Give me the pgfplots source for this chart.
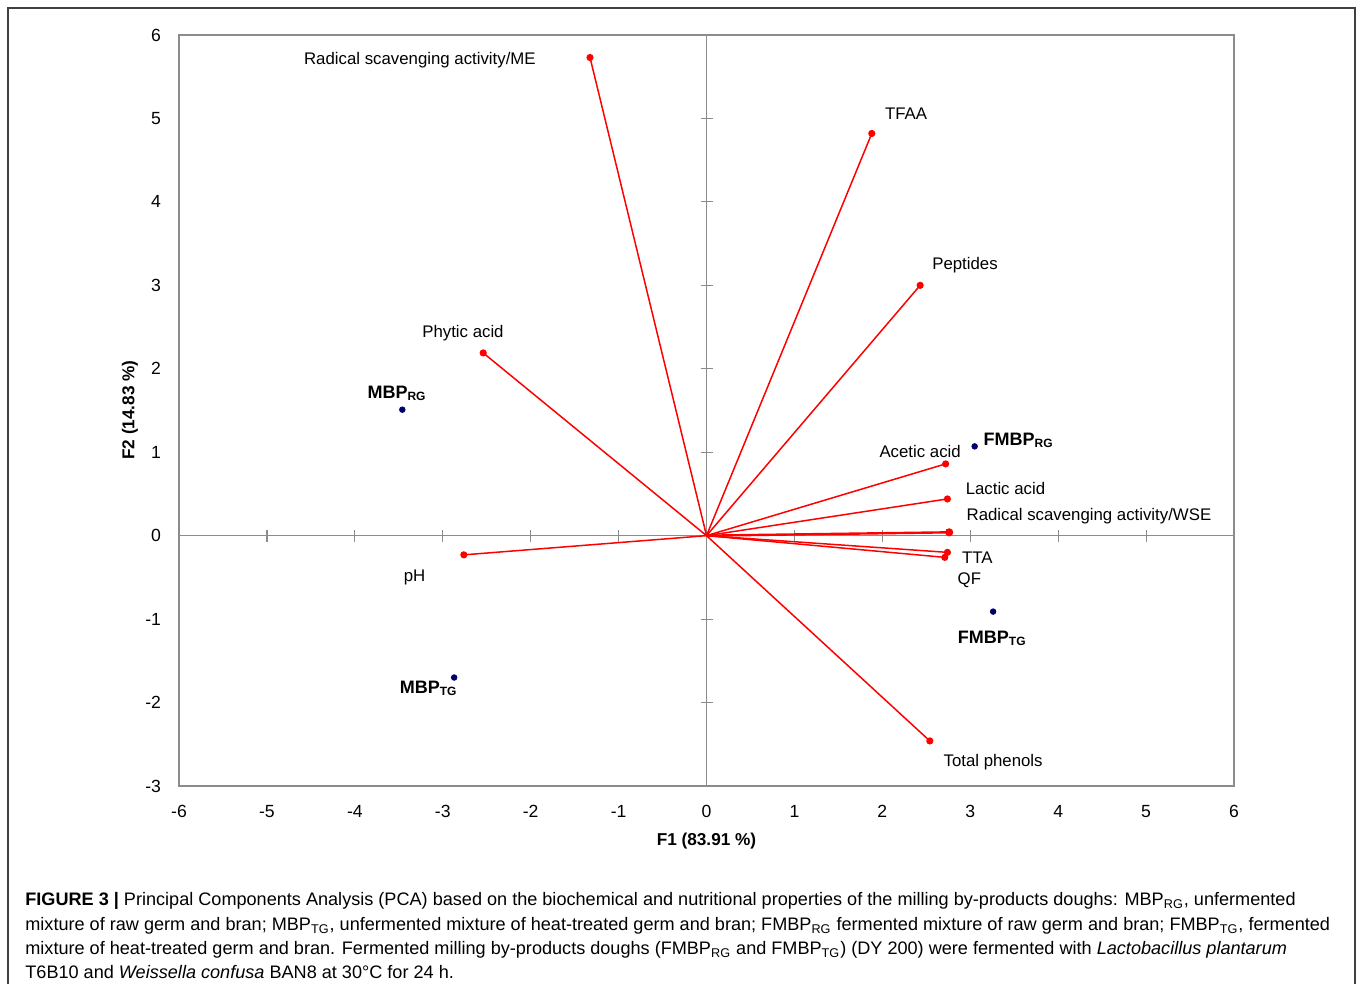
\documentclass[border=0pt]{standalone}
\usepackage{pgfplots}
\pgfplotsset{compat=1.18}
\usepackage{fontspec}
\setmainfont{Liberation Sans}
\definecolor{axgray}{RGB}{140,140,140}
\definecolor{ptnavy}{RGB}{0,0,110}
\begin{document}
\begin{tikzpicture}
\useasboundingbox (-89.5pt,-99pt) rectangle (590.5pt,393pt);
\draw[line width=0.8pt, black!75] (-85.5pt,-110pt) -- (-85.5pt,389pt) -- (588pt,389pt) -- (588pt,-110pt);
\begin{axis}[
  scale only axis, width=527.5pt, height=375.5pt,
  xmin=-6, xmax=6, ymin=-3, ymax=6,
  xtick={-6,...,6}, ytick={-3,...,6},
  major tick length=0pt,
  axis line style={axgray, line width=0.6pt},
  tick label style={font=\fontsize{8.8}{10}\selectfont},
  /pgf/number format/assume math mode=true,
  xticklabel style={yshift=-6pt},
  yticklabel style={xshift=-5.5pt},
  clip=false,
]
\draw[axgray, line width=0.6pt] (axis cs:-6,0) -- (axis cs:6,0);
\draw[axgray, line width=0.6pt] (axis cs:0,-3) -- (axis cs:0,6);
\pgfplotsinvokeforeach{-5,-4,-3,-2,-1,1,2,3,4,5}{
  \draw[axgray, line width=0.6pt] ([yshift=-3pt]axis cs:#1,0) -- ([yshift=3pt]axis cs:#1,0);
}
\pgfplotsinvokeforeach{-2,-1,1,2,3,4,5}{
  \draw[axgray, line width=0.6pt] ([xshift=-3pt]axis cs:0,#1) -- ([xshift=3pt]axis cs:0,#1);
}
\pgfplotsset{vec/.style={red, line width=0.75pt, mark=*, mark size=1.4pt, mark indices={2}, mark options={solid, fill=red}}}
\addplot[vec] coordinates {(0,0) (-1.325,5.73)};
\addplot[vec] coordinates {(0,0) (1.88,4.82)};
\addplot[vec] coordinates {(0,0) (2.43,3.00)};
\addplot[vec] coordinates {(0,0) (-2.54,2.19)};
\addplot[vec] coordinates {(0,0) (2.72,0.86)};
\addplot[vec] coordinates {(0,0) (2.74,0.44)};
\addplot[vec, line width=1.2pt] coordinates {(0,0) (2.76,0.04)};
\addplot[vec] coordinates {(0,0) (2.74,-0.20)};
\addplot[vec] coordinates {(0,0) (2.71,-0.26)};
\addplot[vec] coordinates {(0,0) (-2.76,-0.23)};
\addplot[vec] coordinates {(0,0) (2.54,-2.46)};
\addplot[only marks, mark=*, mark size=1.4pt, color=ptnavy] coordinates {(-3.46,1.51) (3.05,1.07) (3.26,-0.91) (-2.87,-1.70)};
\begin{scope}[every node/.style={font=\fontsize{8.4}{10}\selectfont, inner sep=0pt}]
\node at (axis cs:-3.26,5.70) {Radical scavenging activity/ME};
\node at (axis cs:2.27,5.06) {TFAA};
\node at (axis cs:2.94,3.24) {Peptides};
\node at (axis cs:-2.77,2.43) {Phytic acid};
\node at (axis cs:2.43,1.01) {Acetic acid};
\node at (axis cs:3.40,0.56) {Lactic acid};
\node at (axis cs:4.35,0.23) {Radical scavenging activity/WSE};
\node at (axis cs:3.08,-0.26) {TTA};
\node at (axis cs:2.99,-0.54) {QF};
\node at (axis cs:-3.32,-0.50) {pH};
\node at (axis cs:3.26,-2.72) {Total phenols};
\end{scope}
\begin{scope}[every node/.style={font=\bfseries\fontsize{9}{10}\selectfont, inner sep=0pt}]
\node at (axis cs:-3.52,1.71) {MBP\textsubscript{RG}};
\node at (axis cs:3.55,1.14) {FMBP\textsubscript{RG}};
\node at (axis cs:3.25,-1.23) {FMBP\textsubscript{TG}};
\node at (axis cs:-3.16,-1.83) {MBP\textsubscript{TG}};
\end{scope}
\end{axis}
\node[font=\bfseries\fontsize{8.6}{10}\selectfont] at (263.75pt,-27.5pt) {F1 (83.91 \%)};
\node[font=\bfseries\fontsize{8.6}{10}\selectfont, rotate=90] at (-24.5pt,188pt) {F2 (14.83 \%)};
\begin{scope}[every node/.style={font=\fontsize{9.05}{10}\selectfont, inner sep=0pt, anchor=base west}]
\node at (-77pt,-60pt) {\textbf{FIGURE 3 |} Principal Components Analysis (PCA) based on the biochemical and nutritional properties of the milling by-products doughs: MBP\textsubscript{RG}, unfermented};
\node at (-77pt,-72.2pt) {mixture of raw germ and bran; MBP\textsubscript{TG}, unfermented mixture of heat-treated germ and bran; FMBP\textsubscript{RG} fermented mixture of raw germ and bran; FMBP\textsubscript{TG}, fermented};
\node at (-77pt,-84.5pt) {mixture of heat-treated germ and bran. Fermented milling by-products doughs (FMBP\textsubscript{RG} and FMBP\textsubscript{TG}) (DY 200) were fermented with \textit{Lactobacillus plantarum}};
\node at (-77pt,-96.5pt) {T6B10 and \textit{Weissella confusa} BAN8 at 30°C for 24 h.};
\end{scope}
\end{tikzpicture}
\end{document}
